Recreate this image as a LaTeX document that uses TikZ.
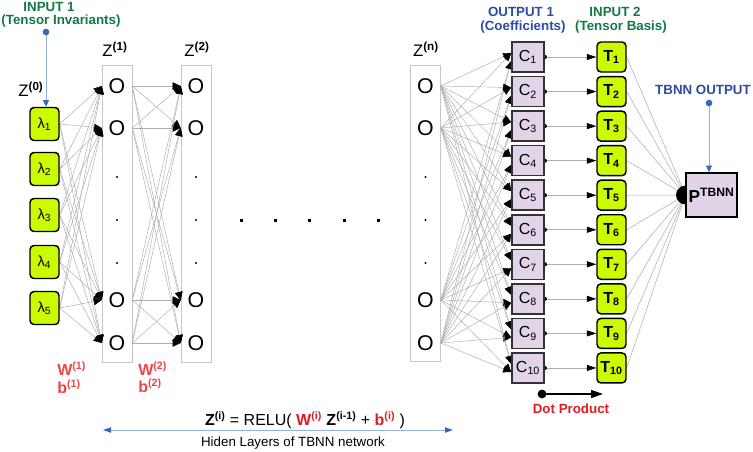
\documentclass[tikz,border=0pt]{standalone}
\usepackage{fontspec}
\setmainfont{Liberation Sans}
\usetikzlibrary{arrows.meta,backgrounds}
\definecolor{limefill}{RGB}{204,250,0}
\definecolor{lavfill}{RGB}{226,212,232}
\definecolor{ingreen}{RGB}{20,120,70}
\definecolor{outblue}{RGB}{45,75,165}
\definecolor{dotblue}{RGB}{55,105,180}
\definecolor{lineblue}{RGB}{150,175,215}
\definecolor{wred}{RGB}{238,70,70}
\definecolor{fred}{RGB}{220,30,35}
\begin{document}
\begin{tikzpicture}[x=0.75pt,y=-0.75pt,
  lam/.style={draw=black, line width=1.1pt, fill=limefill, rounded corners=3pt,
    minimum width=21.75pt, minimum height=24.75pt, inner sep=0pt,
    font=\fontsize{11}{13}\selectfont},
  onode/.style={minimum width=22.5pt, minimum height=15pt, inner sep=0pt,
    font=\fontsize{16}{18}\selectfont},
  colbox/.style={draw=black!22, line width=0.6pt, minimum width=22.5pt,
    minimum height=222.5pt, inner sep=0pt},
  cbox/.style={draw=black!80, line width=1.2pt, fill=lavfill,
    minimum width=24pt, minimum height=22.5pt, inner sep=0pt,
    font=\fontsize{12}{14}\selectfont},
  tbox/.style={draw=black, line width=1.1pt, fill=limefill, rounded corners=3pt,
    minimum width=21.75pt, minimum height=22.5pt, inner sep=0pt,
    font=\bfseries\fontsize{12}{14}\selectfont},
  pbox/.style={draw=black, line width=1.2pt, fill=lavfill,
    minimum width=38pt, minimum height=33pt, inner sep=0pt,
    font=\bfseries\fontsize{13}{15}\selectfont},
  conn/.style={draw=black!32, line width=0.35pt,
    -{Triangle[length=6pt,width=5.5pt,color=black,fill=black]}},
  ct/.style={draw=black!32, line width=0.45pt,
    -{Triangle[length=7pt,width=4.5pt,color=black,fill=black]}},
  tp/.style={draw=black!32, line width=0.4pt},
  zlab/.style={font=\fontsize{12.5}{14}\selectfont},
  glab/.style={text=ingreen, font=\bfseries\fontsize{10}{12}\selectfont, inner sep=0pt},
  blab/.style={text=outblue, font=\bfseries\fontsize{10}{12}\selectfont, inner sep=0pt},
  wlab/.style={text=wred, font=\bfseries\fontsize{12}{14}\selectfont, inner sep=0pt, anchor=west},
  bluearrow/.style={draw=lineblue, line width=0.6pt,
    -{Triangle[length=5pt,width=4.5pt,color=dotblue,fill=dotblue]}}
]
\useasboundingbox (0,0) rectangle (753,451);

% inputs / labels
\node[glab] (in1a) at (49,7) {INPUT 1};
\node[glab] (in1b) at (61,21) {(Tensor Invariants)};
\node[blab] (out1a) at (521,12) {OUTPUT 1};
\node[blab] (out1b) at (523,27) {(Coefficients)};
\node[glab] (in2a) at (615,12) {INPUT 2};
\node[glab] (in2b) at (621,27) {(Tensor Basis)};
\node[blab] (tout lab) at (703,90) {TBNN OUTPUT};

\node[zlab] (z0) at (31,89) {Z\textsuperscript{\bfseries(0)}};
\node[zlab] (z1) at (115,49) {Z\textsuperscript{\bfseries(1)}};
\node[zlab] (z2) at (197,49) {Z\textsuperscript{\bfseries(2)}};
\node[zlab] (zn) at (426,49) {Z\textsuperscript{\bfseries(n)}};

% lambda inputs
\foreach \i/\y in {1/124,2/169,3/215,4/262,5/308}
  \node[lam] (l\i) at (44.5,\y) {λ\textsubscript{\i}};

% hidden layer nodes
\foreach \j/\y in {1/86,2/128,3/300,4/343} {
  \node[onode] (a\j) at (117,\y) {O};
  \node[onode] (b\j) at (196,\y) {O};
  \node[onode] (n\j) at (425.5,\y) {O};
}
\foreach \y in {177,220,263}
  \foreach \x in {117,196,425.5}
    \fill (\x,\y) circle (0.8pt);

% horizontal ellipsis
\foreach \x in {241,275,309,344,378}
  \fill (\x-1.5,218.5) rectangle ++(3,3);

% coefficients and tensor basis
\foreach \i in {1,...,10} {
  \pgfmathsetmacro\yy{57+34.55*(\i-1)}
  \node[cbox] (C\i) at (528,\yy) {C\textsubscript{\i}};
  \node[tbox] (T\i) at (611.5,\yy) {T\textsubscript{\i}};
}

\node[pbox] (P) at (711.5,195) {P\textsuperscript{TBNN}};

% weight labels
\node[wlab] (w1) at (57,369) {W\textsuperscript{(1)}};
\node[wlab] (bb1) at (57,387) {b\textsuperscript{(1)}};
\node[wlab] (w2) at (138,369) {W\textsuperscript{(2)}};
\node[wlab] (bb2) at (138,386) {b\textsuperscript{(2)}};

% formula
\node[font=\fontsize{12}{14}\selectfont, inner sep=0pt] (formula) at (305,420)
  {\textbf{Z\textsuperscript{(i)}} = RELU( \textcolor{fred}{\textbf{W\textsuperscript{(i)}}} \textbf{Z\textsuperscript{(i-1)}} + \textcolor{fred}{\textbf{b\textsuperscript{(i)}}} )};
\coordinate (hl) at (103,430);
\coordinate (hr) at (453,430);
\draw[draw=lineblue, line width=0.6pt,
  {Triangle[length=6pt,width=4pt,color=dotblue,fill=dotblue]}-{Triangle[length=6pt,width=4pt,color=dotblue,fill=dotblue]}]
  (hl) -- (hr);
\node[font=\fontsize{10}{12}\selectfont, inner sep=0pt] (hidlab) at (293,443) {Hiden Layers of TBNN network};

% dot product legend
\coordinate (dpa) at (542,394);
\coordinate (dpb) at (603,394);
\draw[line width=1.1pt, -{Triangle[length=9pt,width=6pt]}] (dpa) -- (dpb);
\fill (dpa) circle (3.3pt);
\node[text=fred, font=\bfseries\fontsize{10}{12}\selectfont, inner sep=0pt] (dplab) at (571,409) {Dot Product};

% input arrows
\coordinate (in1) at (46,32);
\draw[bluearrow] (in1) -- (in1 |- l1.north);
\fill[dotblue] (in1) circle (2.5pt);
\coordinate (tout) at (709,103);
\draw[bluearrow] (tout) -- (tout |- P.north);
\fill[dotblue] (tout) circle (2.5pt);

\begin{scope}[on background layer]
  \node[colbox] (col1) at (117,214) {};
  \node[colbox] (col2) at (196,214) {};
  \node[colbox] (coln) at (425.5,213.5) {};
  \foreach \i in {1,...,5}
    \foreach \j in {1,...,4}
      \draw[conn] (l\i.east) -- (a\j.west);
  \foreach \i in {1,...,4}
    \foreach \j in {1,...,4}
      \draw[conn] (a\i.east) -- (b\j.west);
  \foreach \j in {1,...,10} {
    \draw[conn] (n1.east) -- ([yshift=3pt]C\j.west);
    \draw[conn] (n2.east) -- ([yshift=3pt]C\j.west);
    \draw[conn] (n3.east) -- ([yshift=-3pt]C\j.west);
    \draw[conn] (n4.east) -- ([yshift=-3pt]C\j.west);
  }
  \foreach \i in {1,...,10} {
    \draw[ct] (C\i.east) -- (T\i.west);
    \fill (C\i.east) circle (1.6pt);
    \draw[tp] (T\i.east) -- (P.west);
  }
  \fill (P.west) circle (7pt);
\end{scope}
\end{tikzpicture}
\end{document}
